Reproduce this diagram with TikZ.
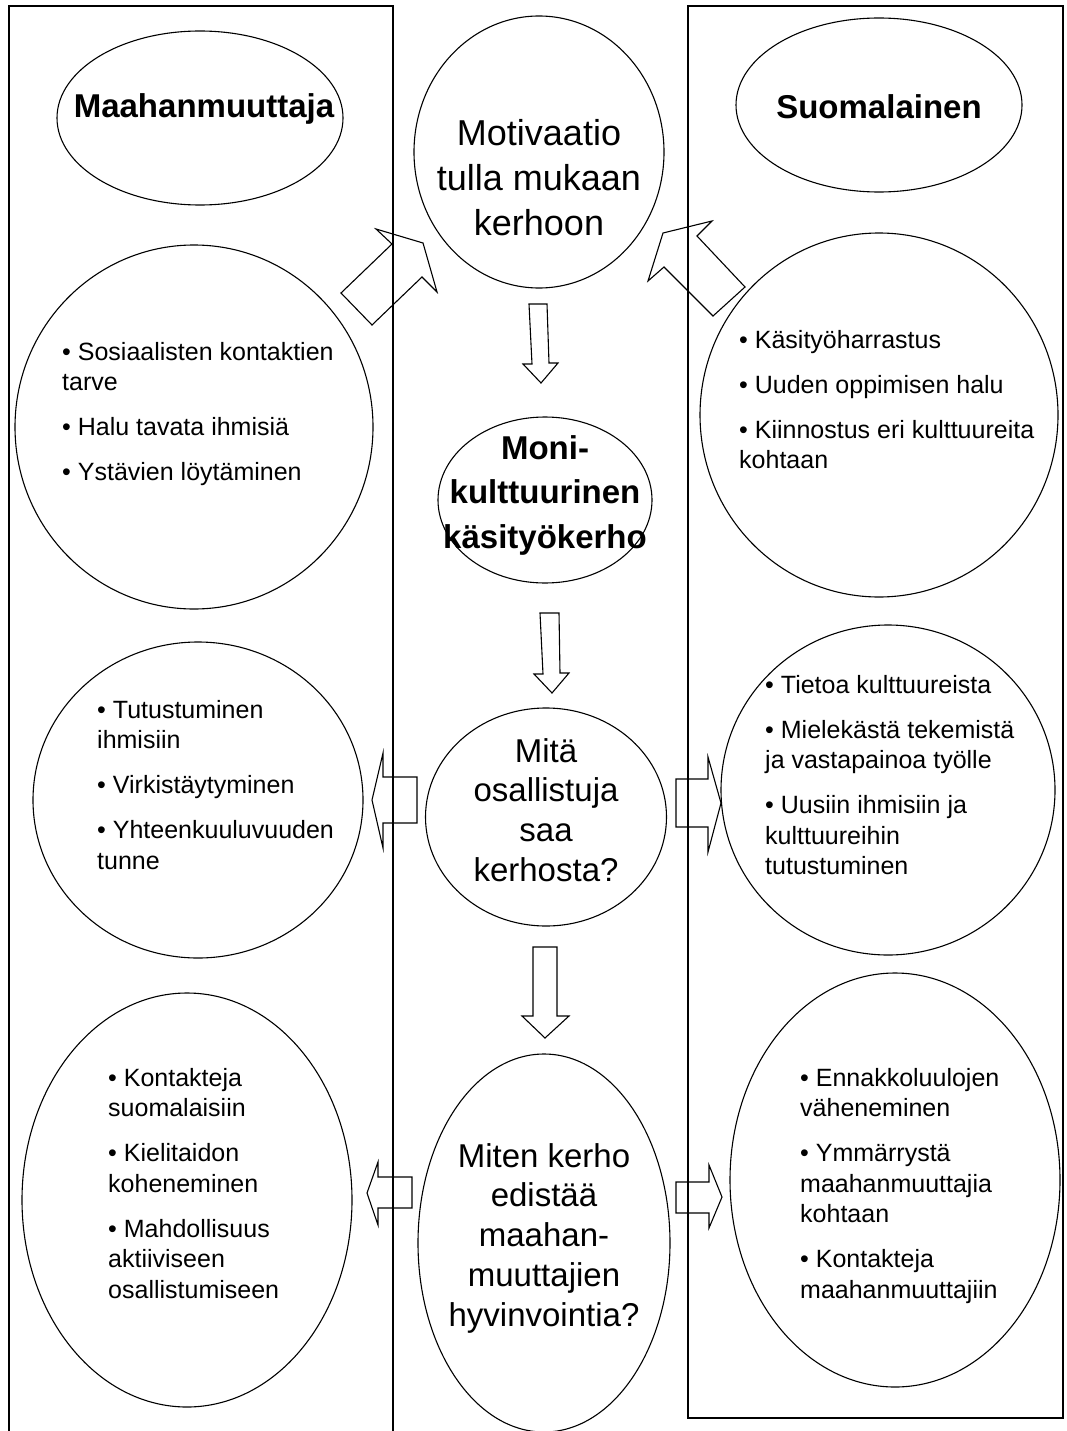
\documentclass[tikz,border=0pt]{standalone}
\usepackage{fontspec}
\setmainfont{Liberation Sans}
\usetikzlibrary{shapes.geometric}
\begin{document}
\begin{tikzpicture}[x=1pt,y=-1pt,
  ell/.style={draw, ellipse, inner sep=0pt, line width=1.1pt},
  blk/.style={draw, line width=1.1pt, fill=white, line join=miter},
  frame/.style={draw, line width=1.2pt},
  bul/.style={anchor=north west, inner sep=0pt, align=left, font=\fontsize{25}{30.5}\selectfont},
  ttl/.style={anchor=north, inner sep=0pt, align=center, font=\fontsize{33}{39.7}\selectfont},
  ttlb/.style={ttl, font=\fontsize{33}{44.5}\selectfont\bfseries},
  ttlbig/.style={ttl, font=\fontsize{36}{45}\selectfont}]
\fill[white] (0,0) rectangle (1067,1431);
\useasboundingbox (0,0) rectangle (1067,1431);
% ellipses / circles
\node[ell, minimum width=286pt, minimum height=174pt] (maah) at (200,118) {};
\node[ell, minimum width=286pt, minimum height=174pt] (suom) at (879,105) {};
\node[ell, minimum width=250pt, minimum height=272pt] (moti) at (539,152) {};
\node[ell, minimum width=214pt, minimum height=166pt] (moni) at (545,500) {};
\node[ell, minimum width=241pt, minimum height=218pt] (mita) at (546,817) {};
\node[ell, minimum width=252pt, minimum height=378pt] (mite) at (544,1243) {};
\node[ell, minimum width=358pt, minimum height=364pt] (l1) at (194,427) {};
\node[ell, minimum width=358pt, minimum height=364pt] (r1) at (879,415) {};
\node[ell, minimum width=330pt, minimum height=316pt] (l2) at (198,800) {};
\node[ell, minimum width=334pt, minimum height=330pt] (r2) at (888,790) {};
\node[ell, minimum width=330pt, minimum height=414pt] (l3) at (187,1200) {};
\node[ell, minimum width=330pt, minimum height=414pt] (r3) at (895,1180) {};
% block arrows
\draw[blk] (341,293) -- (392,244) -- (376,229) -- (423,243) -- (437,292) -- (422,277) -- (372,325) -- cycle;
\draw[blk] (745,287) -- (697,236) -- (712,221) -- (663,233) -- (648,281) -- (664,267) -- (713,316) -- cycle;
\draw[blk] (529,304) -- (547,304) -- (549,363) -- (558,363) -- (541,383) -- (523,364) -- (532,364) -- cycle;
\draw[blk] (540,613) -- (559,613) -- (560,673) -- (569,673) -- (552,693) -- (534,674) -- (543,674) -- cycle;
\draw[blk] (533,947) -- (557,947) -- (557,1016) -- (569,1016) -- (545,1038) -- (522,1016) -- (533,1016) -- cycle;
\draw[blk] (417,777) -- (383,777) -- (383,753) -- (372,800) -- (383,848) -- (383,823) -- (417,823) -- cycle;
\draw[blk] (676,779) -- (708,779) -- (708,757) -- (721,803) -- (708,852) -- (708,827) -- (676,827) -- cycle;
\draw[blk] (412,1177) -- (378,1177) -- (378,1162) -- (367,1193) -- (378,1225) -- (378,1208) -- (412,1208) -- cycle;
\draw[blk] (676,1182) -- (709,1182) -- (709,1165) -- (722,1197) -- (709,1228) -- (709,1213) -- (676,1213) -- cycle;
% frames
\draw[frame] (9,1432) -- (9,6) -- (393,6) -- (393,1432);
\draw[frame] (688,6) rectangle (1063,1418);
% titles
\node[anchor=base, inner sep=0pt, font=\fontsize{33}{39.7}\selectfont\bfseries] (tmaah) at (204,118) {Maahanmuuttaja};
\node[anchor=base, inner sep=0pt, font=\fontsize{33}{39.7}\selectfont\bfseries] (tsuom) at (879,119) {Suomalainen};
\node[ttlbig] (tmoti) at (539,113.5) {\strut Motivaatio\\tulla mukaan\\kerhoon};
\node[ttlb] (tmoni) at (545,427.85) {\strut Moni-\\kulttuurinen\\käsityökerho};
\node[ttl] (tmita) at (546,734.2) {\strut Mitä\\osallistuja\\saa\\kerhosta?};
\node[ttl] (tmite) at (544,1139.2) {\strut Miten kerho\\edistää\\maahan-\\muuttajien\\hyvinvointia?};
% bullet texts
\node[bul] (tl1) at (62,338.65) {\strut • Sosiaalisten kontaktien\\tarve\\[14.5pt]• Halu tavata ihmisiä\\[14.5pt]• Ystävien löytäminen};
\node[bul] (tr1) at (739,326.65) {\strut • Käsityöharrastus\\[14.5pt]• Uuden oppimisen halu\\[14.5pt]• Kiinnostus eri kulttuureita\\kohtaan};
\node[bul] (tl2) at (97,696.65) {\strut • Tutustuminen\\ihmisiin\\[14.5pt]• Virkistäytyminen\\[14.5pt]• Yhteenkuuluvuuden\\tunne};
\node[bul] (tr2) at (765,671.65) {\strut • Tietoa kulttuureista\\[14.5pt]• Mielekästä tekemistä\\ja vastapainoa työlle\\[14.5pt]• Uusiin ihmisiin ja\\kulttuureihin\\tutustuminen};
\node[bul] (tl3) at (108,1064.65) {\strut • Kontakteja\\suomalaisiin\\[14.5pt]• Kielitaidon\\koheneminen\\[14.5pt]• Mahdollisuus\\aktiiviseen\\osallistumiseen};
\node[bul] (tr3) at (800,1064.65) {\strut • Ennakkoluulojen\\väheneminen\\[14.5pt]• Ymmärrystä\\maahanmuuttajia\\kohtaan\\[14.5pt]• Kontakteja\\maahanmuuttajiin};
\end{tikzpicture}
\end{document}
